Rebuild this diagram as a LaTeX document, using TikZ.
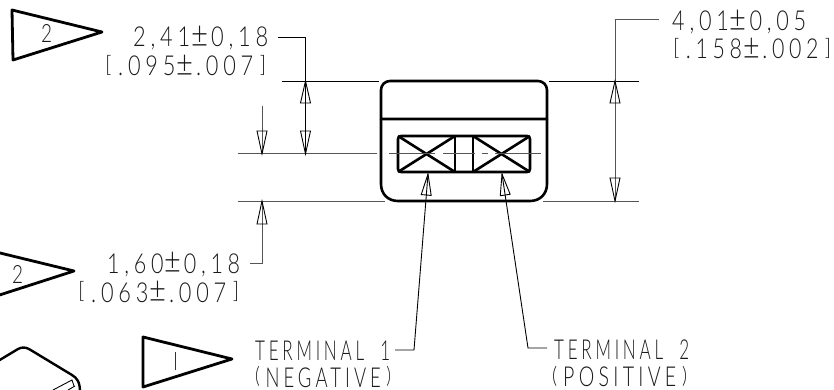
\documentclass[tikz,border=0pt]{standalone}
\usepackage{fontspec}
\usepackage{graphicx}
\usetikzlibrary{calc}
\newfontfamily\dimf[LetterSpace=22]{Lato Light}
\definecolor{dimgray}{HTML}{555555}
\newcommand{\dimtxt}[2]{\resizebox{#1pt}{20.6pt}{\dimf\rule{0pt}{.75em}\smash{#2}}}
\newcommand{\plmn}{\kern.05em\raisebox{-.03em}{\scalebox{1.35}{±}}\kern.12em}
\newcommand{\xlp}{\raisebox{.12em}{\scalebox{1}[.82]{(}}\kern.3em}
\newcommand{\xrp}{\kern.3em\raisebox{.12em}{\scalebox{1}[.82]{)}}}
\newcommand{\xlb}{\raisebox{.12em}{\scalebox{1}[.82]{[}}\kern.3em}
\newcommand{\xrb}{\kern.3em\raisebox{.12em}{\scalebox{1}[.82]{]}}}
\tikzset{
  x=1pt,y=-1pt,
  lab/.style={anchor=base west,inner sep=0pt,text=black!90},
  flagline/.style={line width=2.8pt,line join=round,line cap=round},
  body/.style={line width=2.6pt,line join=round},
  thin dim/.style={line width=0.9pt,draw=black},
  gray dim/.style={line width=1pt,draw=dimgray},
  openhead/.style={line width=0.9pt,draw=black,fill=none,line join=miter},
}
% #1 style, #2 apex, #3 base centre
\newcommand{\dimhead}[3]{\draw[#1] (#2) -- ($(#3)!5pt!90:(#2)$) -- ($(#3)!5pt!-90:(#2)$) -- cycle;}
\begin{document}
\begin{tikzpicture}
\useasboundingbox (0,0) rectangle (834,390);
\clip (0,0) rectangle (834,390);
% flags
\draw[flagline] (12,10) -- (102,32) -- (13,60) -- cycle;
\node[lab] (f1) at (41,43) {\resizebox{11pt}{18pt}{\dimf 2}};
\draw[flagline] (-2,252.5) -- (74,271) -- (-2,295.5);
\node[lab] (f2) at (12,283) {\resizebox{11pt}{18pt}{\dimf 2}};
\draw[flagline] (143,337) -- (232,359) -- (143,387) -- cycle;
\draw[line width=1pt,black!80] (175,352) -- (175,370);
% clipped outline at the lower left
\draw[flagline,line width=2.4pt] (-2,361) -- (18,349) .. controls (22,347) and (25,347) .. (29,349) -- (72,375) .. controls (77,378) and (80,382) .. (80,392);
\draw[line width=0.9pt] (53,390) -- (72,380) -- (74,386);
\draw[line width=0.9pt] (68,390) -- (75,386);
% dimension text
\node[lab] (d1a) at (133,47) {\dimtxt{135}{2,41\plmn0,18}};
\node[lab] (d1b) at (105,76) {\dimtxt{161}{\xlb.095\plmn.007\xrb}};
\node[lab] (d2a) at (107,273) {\dimtxt{133}{1,60\plmn0,18}};
\node[lab] (d2b) at (78,302) {\dimtxt{161}{\xlb.063\plmn.007\xrb}};
\node[lab] (d3a) at (672,31) {\dimtxt{134}{4,01\plmn0,05}};
\node[lab] (d3b) at (673,59) {\dimtxt{158}{\xlb.158\plmn.002\xrb}};
\node[lab] (t1a) at (255,360) {\dimtxt{135}{TERMINAL\hspace{.95em}1}};
\node[lab] (t1b) at (255,387) {\dimtxt{136}{\xlp NEGATIVE\xrp}};
\node[lab] (t2a) at (554,359) {\dimtxt{135}{TERMINAL\hspace{.95em}2}};
\node[lab] (t2b) at (552,386.5) {\dimtxt{135}{\xlp POSITIVE\xrp}};
% body
\draw[body] (381,119) -- (381,90) .. controls (381,85) and (385,81) .. (390,81) -- (538,81) .. controls (543,81) and (547,85) .. (547,90) -- (547,119) -- cycle;
\draw[body] (381,119) -- (381,184) .. controls (381,194) and (388,201) .. (398,201) -- (530,201) .. controls (540,201) and (547,194) .. (547,184) -- (547,119);
\draw[body,rounded corners=3pt] (398,136) rectangle (530,172);
\draw[body] (455,136) -- (455,172) (473,136) -- (473,172);
\draw[body] (398,136) -- (455,172) (398,172) -- (455,136);
\draw[body] (473,136) -- (530,172) (473,172) -- (530,136);
% centre line
\draw[gray dim] (238,154) -- (377,154);
\draw[gray dim] (389,154) -- (435,154) (443,154) -- (475,154) (482,154) -- (488,154) (495,154) -- (541,154);
% extension lines
\draw[thin dim] (282,81) -- (379,81);
\draw[thin dim] (549,81) -- (639,81);
\draw[gray dim] (238,201) -- (385,201);
\draw[gray dim] (543,201) -- (639,201);
% named dimension points
\coordinate (p1) at (278,37); \coordinate (p2) at (305.5,37); \coordinate (p3) at (305.5,154);
\coordinate (p1t) at (305.5,81); \coordinate (p1u) at (305.5,103); \coordinate (p1l) at (305.5,131);
\draw[thin dim] (p1) -- (p2) -- (p3);
\dimhead{openhead}{p1t}{p1u}
\dimhead{openhead}{p3}{p1l}
\coordinate (q1) at (262,106); \coordinate (q2) at (262,154); \coordinate (q2b) at (262,131);
\draw[gray dim] (q1) -- (q2);
\dimhead{openhead}{q2}{q2b}
\coordinate (q3) at (262,201); \coordinate (q3b) at (262,224); \coordinate (q4) at (262,263); \coordinate (q5) at (250,263);
\draw[gray dim] (q3) -- (q4) -- (q5);
\dimhead{openhead}{q3}{q3b}
\coordinate (r1) at (659,20); \coordinate (r2) at (615,20); \coordinate (r3) at (615,201);
\coordinate (r4) at (615,81); \coordinate (r5) at (615,103); \coordinate (r6) at (615,178);
\draw[gray dim] (r1) -- (r2) -- (r3);
\dimhead{openhead}{r4}{r5}
\dimhead{openhead}{r3}{r6}
% terminal leaders
\coordinate (s1) at (428,174); \coordinate (s2) at (414,350); \coordinate (s3) at (395,350); \coordinate (s1b) at (426.2,195);
\draw[thin dim] (s1) -- (s2) -- (s3);
\dimhead{openhead}{s1}{s1b}
\coordinate (u1) at (502,174); \coordinate (u2) at (528,348); \coordinate (u3) at (547,348); \coordinate (u1b) at (505.2,195);
\draw[thin dim] (u1) -- (u2) -- (u3);
\dimhead{openhead}{u1}{u1b}
\end{tikzpicture}
\end{document}
